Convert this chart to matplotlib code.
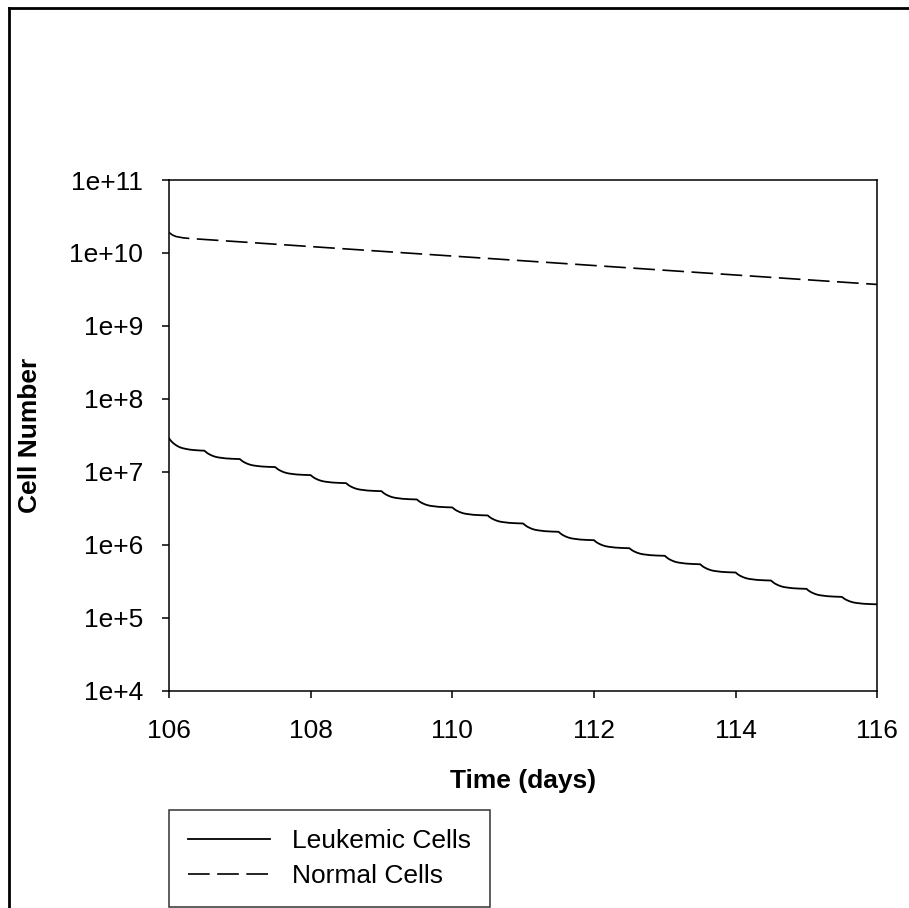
import matplotlib
matplotlib.use("Agg")
import matplotlib.pyplot as plt
from matplotlib.lines import Line2D
from matplotlib.ticker import FixedLocator, FuncFormatter, NullLocator
import numpy as np

plt.rcParams['font.family'] = ['Liberation Sans', 'DejaVu Sans']

# dose times (start of each half-day step) and log10 cell count read at each kink
dose_times = [106.0, 106.5, 107.0, 107.5, 108.0, 108.5, 109.0, 109.5, 110.0, 110.5,
              111.0, 111.5, 112.0, 112.5, 113.0, 113.5, 114.0, 114.5, 115.0, 115.5, 116.0]
leuk_log = [7.459, 7.290, 7.175, 7.065, 6.955, 6.845, 6.735, 6.621, 6.512, 6.402,
            6.292, 6.178, 6.063, 5.953, 5.849, 5.733, 5.620, 5.510, 5.396, 5.286, 5.184]

# shape of one scallop: part of the step already dropped, vs time after the kink
step_offset = [0, 0.02, 0.04, 0.06, 0.08, 0.1, 0.13, 0.16, 0.2, 0.25, 0.3, 0.35, 0.4, 0.45, 0.5]
step_frac = [0, 0.15, 0.28, 0.39, 0.48, 0.56, 0.66, 0.74, 0.81, 0.87, 0.92, 0.95, 0.97, 0.99, 1.0]

# normal cells (log10)
norm_t = [106.0, 106.05, 106.1, 106.2, 106.3, 116.0]
norm_log = [10.282, 10.245, 10.225, 10.207, 10.198, 9.568]

yticks = [1e4, 1e5, 1e6, 1e7, 1e8, 1e9, 1e10, 1e11]
xticks = [106, 108, 110, 112, 114, 116]

# build the leukemic curve from the kinks and the scallop shape
leuk_t = []
leuk_y = []
for i in range(len(dose_times) - 1):
    for off, fr in zip(step_offset, step_frac):
        if off == 0.5 and i < len(dose_times) - 2:
            continue
        leuk_t.append(dose_times[i] + off)
        leuk_y.append(10 ** (leuk_log[i] - (leuk_log[i] - leuk_log[i + 1]) * fr))

fs = 19

fig = plt.figure(figsize=(9.09, 9.08), dpi=100)
ax = fig.add_axes([169 / 909, 1 - 690.7 / 908, (877.3 - 169) / 909, (690.7 - 180) / 908])

ax.plot(leuk_t, leuk_y, color='black', linewidth=1.3, label='Leukemic Cells')
ax.plot(norm_t, 10 ** np.array(norm_log), color='black', linewidth=1.2,
        dashes=(13, 4.5), label='Normal Cells')

ax.set_yscale('log')
ax.set_ylim(1e4, 1e11)
ax.set_xlim(106, 116)
ax.yaxis.set_major_locator(FixedLocator(yticks))
ax.yaxis.set_minor_locator(NullLocator())
ax.yaxis.set_major_formatter(FuncFormatter(lambda v, p: "1e+%d" % round(np.log10(v))))
ax.set_xticks(xticks)

for s in ax.spines.values():
    s.set_linewidth(1.1)
ax.tick_params(direction='out', length=5, width=1.1, labelsize=fs)
ax.tick_params(axis='x', pad=15.5)
ax.tick_params(axis='y', pad=13.5)

ax.set_xlabel('Time (days)', fontsize=fs, fontweight='bold')
ax.set_ylabel('Cell Number', fontsize=fs, fontweight='bold')
ax.xaxis.set_label_coords(0.5, -0.153)
ax.yaxis.set_label_coords(-0.18, 0.5)

leg = fig.legend(loc='upper left', bbox_to_anchor=(169 / 909, 1 - 810 / 908),
                 fontsize=fs, frameon=True, fancybox=False, edgecolor='black',
                 handlelength=3.1, handletextpad=0.83, labelspacing=0.42,
                 borderpad=0.72, borderaxespad=0)
leg.get_frame().set_linewidth(1.1)

# outer frame (only top and left edges visible)
fig.add_artist(Line2D([9 / 909, 1], [1 - 8 / 908, 1 - 8 / 908], color='black', linewidth=2))
fig.add_artist(Line2D([9 / 909, 9 / 909], [0, 1 - 8 / 908], color='black', linewidth=2))

plt.savefig('out.png', dpi=100)
